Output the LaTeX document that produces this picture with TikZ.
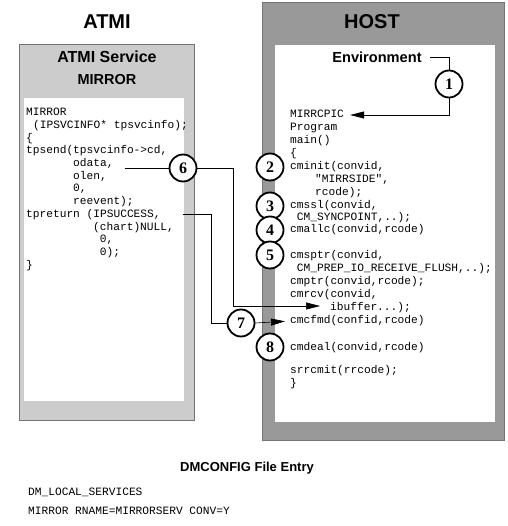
\documentclass[tikz,border=0pt]{standalone}
\usepackage{fontspec}
\setmainfont{Liberation Sans}
\newfontfamily\codefont{Liberation Mono}
\newfontfamily\numfont{Liberation Serif}
\usetikzlibrary{arrows.meta}
\definecolor{atmigray}{HTML}{CCCCCC}
\definecolor{hostgray}{HTML}{999999}
\begin{document}
\begin{tikzpicture}[x=1pt,y=-1pt,
    code/.style={anchor=west,inner sep=0pt,text height=7.5pt,text depth=2pt,font=\codefont\fontsize{11.2}{13}\selectfont},
    bighead/.style={font=\bfseries\fontsize{20}{24}\selectfont},
    num/.style={circle,draw,fill=white,line width=1.8pt,minimum size=27pt,inner sep=0pt,font=\numfont\bfseries\fontsize{16}{18}\selectfont},
    wire/.style={line width=0.6pt},
    arr/.style={wire,-{Triangle[length=14pt,width=7pt]}}]
    \useasboundingbox (0,0) rectangle (507,526);
    % the two panels
    \draw[black!55,fill=atmigray] (19,44) rectangle (194,420);
    \fill[white] (24,98) rectangle (184,401);
    \draw[black!55,fill=hostgray] (262,2) rectangle (504,440);
    \fill[white] (275,45) rectangle (495,422);
    \node[bighead] (atmi) at (107,22) {ATMI};
    \node[bighead] (host) at (372,22) {HOST};
    \node[font=\bfseries\fontsize{16}{19}\selectfont] (svc) at (107,57) {ATMI Service};
    \node[font=\bfseries\fontsize{14.5}{17}\selectfont] (svcname) at (107,80) {MIRROR};
    \node[font=\bfseries\fontsize{14.6}{17}\selectfont] (env) at (377,57) {Environment};
    % ATMI service code
    \node[code] (a1) at (26,113) {MIRROR};
    \node[code] (a2) at (33,125.7) {(IPSVCINFO* tpsvcinfo);};
    \node[code] (a3) at (26,138.4) {\{};
    \node[code] (a4) at (26,151.1) {tpsend(tpsvcinfo->cd,};
    \node[code] (odata) at (73,163.8) {odata,};
    \node[code] (a6) at (73,176.5) {olen,};
    \node[code] (a7) at (73,189.2) {0,};
    \node[code] (a8) at (73,201.9) {reevent);};
    \node[code] (tpret) at (26,214.6) {tpreturn (IPSUCCESS,};
    \node[code] (a10) at (93,227.3) {(chart)NULL,};
    \node[code] (a11) at (99.7,240) {0,};
    \node[code] (a12) at (99.7,252.7) {0);};
    \node[code] (a13) at (26,265.4) {\}};
    % host program
    \node[code] (mirr) at (290,115) {MIRRCPIC};
    \node[code] (h2) at (290,128) {Program};
    \node[code] (h3) at (290,141) {main()};
    \node[code] (h4) at (290,154) {\{};
    \node[code] (h5) at (290,167) {cminit(convid,};
    \node[code] (h6) at (315,180) {"MIRRSIDE",};
    \node[code] (h7) at (315,193) {rcode);};
    \node[code] (h8) at (290,206) {cmssl(convid,};
    \node[code] (h9) at (296.7,218) {CM\_SYNCPOINT,..);};
    \node[code] (h10) at (290,230) {cmallc(convid,rcode)};
    \node[code] (h11) at (290,256) {cmsptr(convid,};
    \node[code] (h12) at (296.7,269) {CM\_PREP\_IO\_RECEIVE\_FLUSH,..);};
    \node[code] (h13) at (290,282) {cmptr(convid,rcode);};
    \node[code] (h14) at (290,295) {cmrcv(convid,};
    \node[code] (ibuf) at (330,308) {ibuffer...);};
    \node[code] (cfmd) at (290,321) {cmcfmd(confid,rcode)};
    \node[code] (h17) at (290,348) {cmdeal(convid,rcode)};
    \node[code] (h18) at (290,371) {srrcmit(rrcode);};
    \node[code] (h19) at (290,384) {\}};
    % numbered steps
    \node[num] (n1) at (449,84) {1};
    \node[num] (n2) at (270,167) {2};
    \node[num] (n3) at (270,206) {3};
    \node[num] (n4) at (270,230) {4};
    \node[num] (n5) at (270,255) {5};
    \node[num] (n6) at (183,168) {6};
    \node[num] (n7) at (241,323) {7};
    \node[num] (n8) at (270,347) {8};
    \coordinate (rcvin) at (320,306);
    \draw[wire,shorten <=5pt] (env.east) -| (n1.north);
    \draw[arr,shorten >=6pt] (n1.south) |- (mirr.east);
    \draw[wire,shorten <=11pt] (odata.east |- n6) -- (n6);
    \draw[arr] (n6.east) -| ([xshift=-87pt]rcvin) -- (rcvin);
    \draw[wire,shorten <=22pt] (tpret.east) -| ([xshift=-15pt]n7.west) -- (n7.west);
    \draw[arr,shorten >=5pt] (n7.east) -- (cfmd.west);
    % DMCONFIG entry
    \node[font=\bfseries\fontsize{13}{16}\selectfont] (dmc) at (247,468) {DMCONFIG File Entry};
    \node[code] (dm1) at (28,493) {DM\_LOCAL\_SERVICES};
    \node[code] (dm2) at (28,512) {MIRROR RNAME=MIRRORSERV CONV=Y};
\end{tikzpicture}
\end{document}
